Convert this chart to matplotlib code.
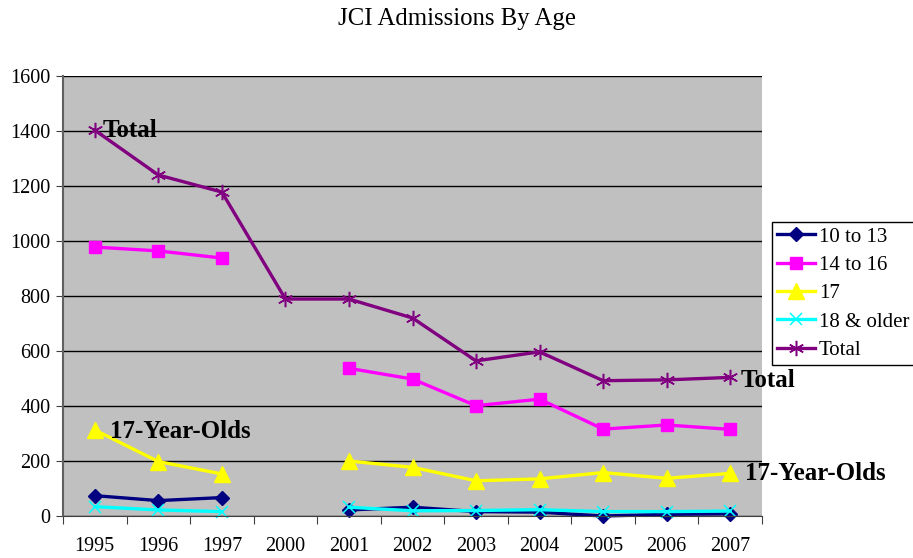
import numpy as np
import matplotlib
matplotlib.use('Agg')
from matplotlib import pyplot as plt

plt.rcParams['font.family'] = ['Liberation Serif', 'DejaVu Serif']

years = ['1995', '1996', '1997', '2000', '2001', '2002', '2003', '2004', '2005', '2006', '2007']
nan = np.nan
age_10_13 = [74, 56, 67, nan, 22, 32, 16, 14, 0, 6, 8]
age_14_16 = [978, 964, 938, nan, 537, 498, 401, 425, 316, 331, 315]
age_17 = [313, 198, 153, nan, 200, 177, 128, 135, 158, 137, 155]
age_18_up = [34, 22, 16, nan, 32, 19, 20, 23, 16, 16, 18]
total = [1403, 1240, 1178, 789, 789, 720, 564, 597, 492, 495, 504]

series = [
    ('10 to 13', age_10_13, '#000080', 'D', 7, 'none'),
    ('14 to 16', age_14_16, '#FF00FF', 's', 9, 'none'),
    ('17', age_17, '#FFFF00', '^', 11, 'none'),
    ('18 & older', age_18_up, '#00FFFF', 'x', 9, '#00FFFF'),
    ('Total', total, '#800080', (6, 2, 0), 11, '#800080'),
]

fig = plt.figure(figsize=(9.13, 5.58), dpi=100)
ax = fig.add_axes([63 / 913, 1 - 516 / 558, 699 / 913, 440 / 558])
ax.set_facecolor('#C0C0C0')

x = np.arange(len(years))
for name, vals, col, mk, ms, mec in series:
    kw = dict(color=col, lw=2.4, marker=mk, ms=ms, label=name, clip_on=False)
    if mec != 'none':
        kw['mec'] = mec
        kw['mew'] = 1.1
    ax.plot(x, vals, **kw)

ax.set_xlim(-0.5, len(years) - 0.5)
ax.set_ylim(0, 1600)
ax.set_yticks(np.arange(0, 1601, 200))
ax.yaxis.grid(True, color='black', lw=1)
ax.set_axisbelow(True)
ax.set_xticks(np.arange(-0.5, len(years), 1))
ax.set_xticklabels([])
ax.set_xticks(x, minor=True)
ax.set_xticklabels(years, minor=True)
ax.tick_params(axis='x', which='minor', length=0, pad=15, labelsize=14.5)
ax.tick_params(axis='x', which='major', length=6, color='#404040')
ax.tick_params(axis='y', length=5, labelsize=14.5, color='#404040', pad=4)
for s in ['top', 'right']:
    ax.spines[s].set_visible(False)
ax.spines['left'].set_color('#606060')
ax.spines['left'].set_linewidth(1.5)
ax.spines['bottom'].set_color('#404040')

ax.text(0.13, total[0], 'Total', fontsize=18, fontweight='bold', va='center', ha='left')
ax.text(0.24, age_17[0] - 5, '17-Year-Olds', fontsize=18, fontweight='bold', va='center', ha='left')
ax.text(10.16, total[10] - 10, 'Total', fontsize=18, fontweight='bold', va='center', ha='left', clip_on=False)
ax.text(10.24, age_17[10], '17-Year-Olds', fontsize=18, fontweight='bold', va='center', ha='left', clip_on=False)

fig.suptitle('JCI Admissions By Age', y=1 - 19 / 558, va='center', fontsize=17.8)

leg = ax.legend(loc='upper left', bbox_to_anchor=(772 / 913, 1 - 222 / 558), bbox_transform=fig.transFigure,
                fontsize=15, frameon=True, fancybox=False, edgecolor='black', framealpha=1,
                borderaxespad=0, handlelength=1.8, borderpad=0.25, labelspacing=0.42, handletextpad=0.2)
leg.get_frame().set_linewidth(1)

plt.savefig('out.png', dpi=100)
